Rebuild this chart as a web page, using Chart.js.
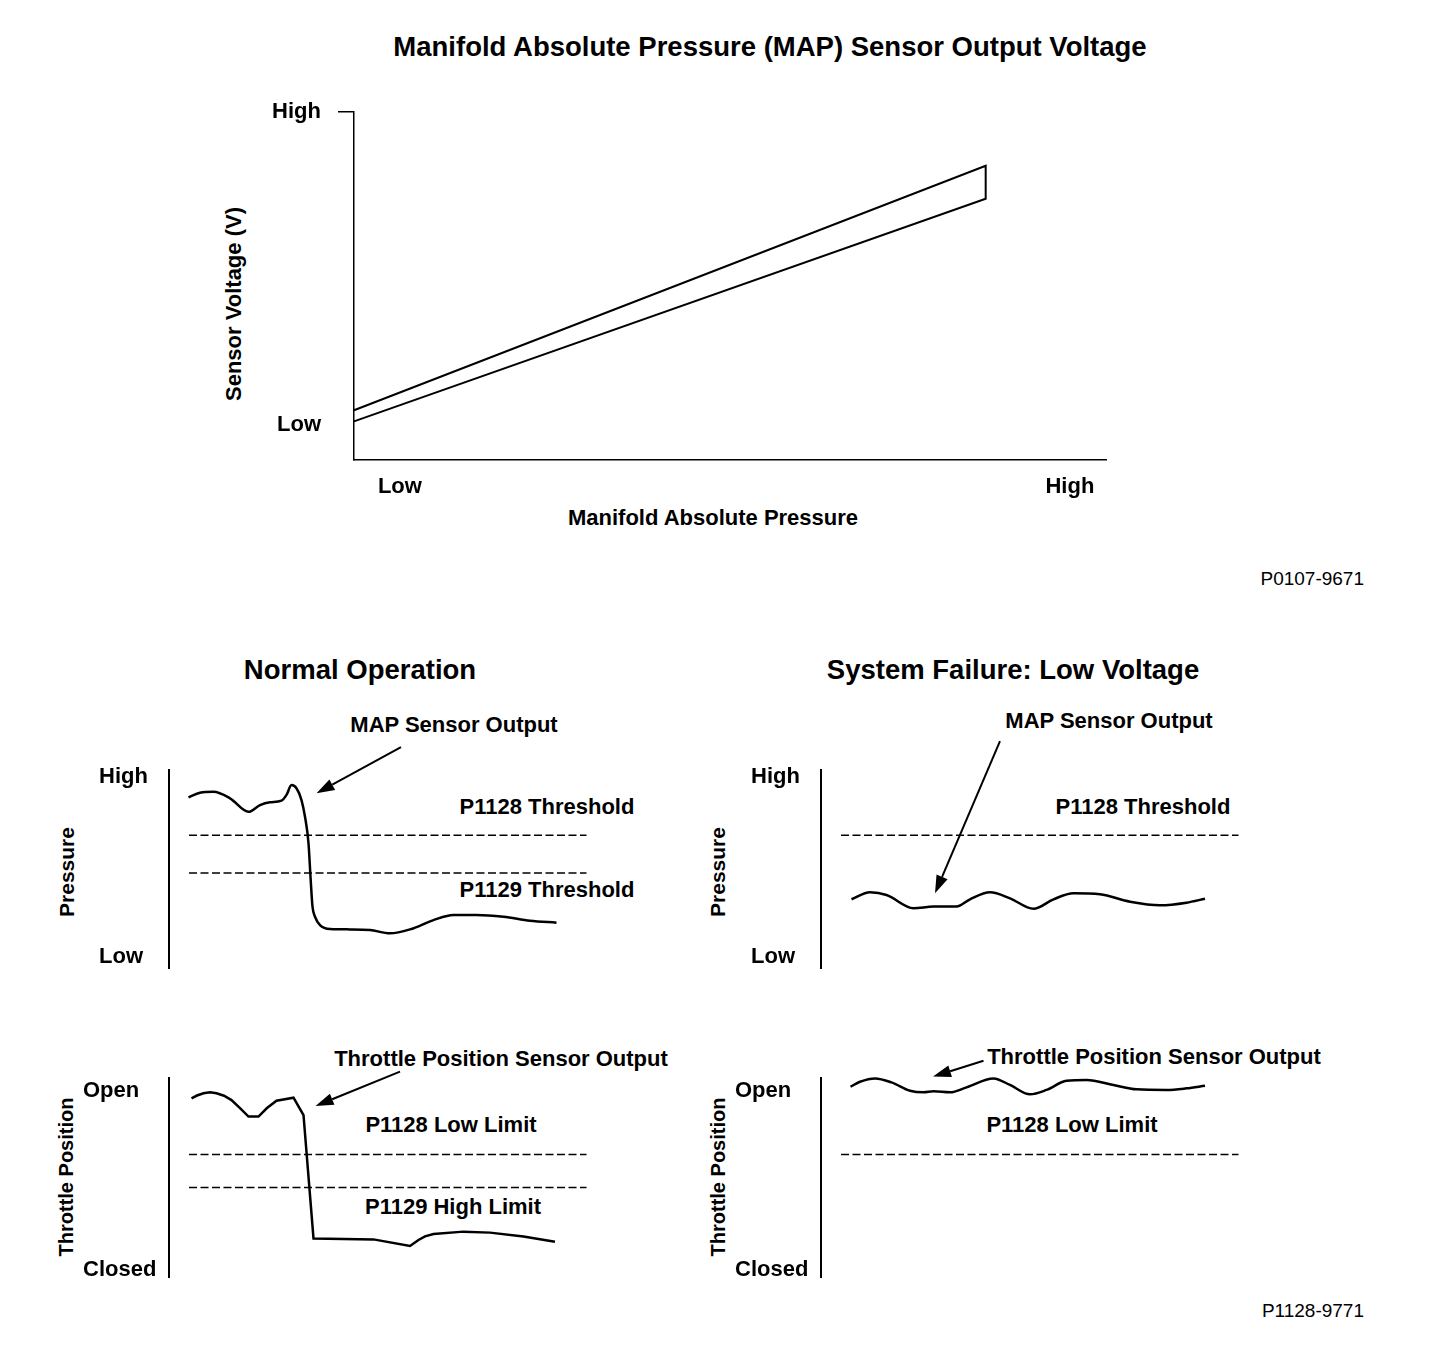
<!DOCTYPE html>
<html>
<head>
<meta charset="utf-8">
<title>MAP Sensor Output Voltage</title>
<script src="https://cdn.jsdelivr.net/npm/chart.js"></script>
<style>
    body { margin: 0; background: #fff; }
    #page { position: relative; width: 1440px; height: 1348px; overflow: hidden; font-family: 'Liberation Sans', Arial, sans-serif; font-weight: bold; color: #000; }
    .box { position: absolute; }
    .t { position: absolute; white-space: nowrap; line-height: 1; transform: translate(-50%, -50%); font-size: 22px; }
    .big { font-size: 27.5px; }
    .rot { transform: translate(-50%, -50%) rotate(-90deg); }
    .code { font-weight: normal; font-size: 19px; transform: translate(-100%, -50%); }
</style>
</head>
<body>
<div id="page">
    <div class="t big" style="left: 770px; top: 47px">Manifold Absolute Pressure (MAP) Sensor Output Voltage</div>
    <div class="t rot" style="left: 234px; top: 304px">Sensor Voltage (V)</div>
    <div class="t" style="left: 713px; top: 518px">Manifold Absolute Pressure</div>
    <div class="t code" style="left: 1364px; top: 578px">P0107-9671</div>

    <div class="t big" style="left: 360px; top: 670px">Normal Operation</div>
    <div class="t big" style="left: 1013px; top: 670px">System Failure: Low Voltage</div>

    <div class="t" style="left: 454px; top: 725px">MAP Sensor Output</div>
    <div class="t" style="left: 547px; top: 807px">P1128 Threshold</div>
    <div class="t" style="left: 547px; top: 890px">P1129 Threshold</div>
    <div class="t rot" style="left: 66px; top: 872px; font-size: 21px">Pressure</div>

    <div class="t" style="left: 1109px; top: 721px">MAP Sensor Output</div>
    <div class="t" style="left: 1143px; top: 807px">P1128 Threshold</div>
    <div class="t rot" style="left: 717px; top: 872px; font-size: 21px">Pressure</div>

    <div class="t" style="left: 501px; top: 1059px">Throttle Position Sensor Output</div>
    <div class="t" style="left: 451px; top: 1125px">P1128 Low Limit</div>
    <div class="t" style="left: 453px; top: 1207px">P1129 High Limit</div>
    <div class="t rot" style="left: 66px; top: 1177px; font-size: 20px">Throttle Position</div>

    <div class="t" style="left: 1154px; top: 1057px">Throttle Position Sensor Output</div>
    <div class="t" style="left: 1072px; top: 1125px">P1128 Low Limit</div>
    <div class="t rot" style="left: 718px; top: 1177px; font-size: 20px">Throttle Position</div>

    <div class="t code" style="left: 1364px; top: 1310px">P1128-9771</div>

    <div class="box" style="left: 200px; top: 82px; width: 940px; height: 428px"><canvas id="mapChart"></canvas></div>
    <div class="box" style="left: 40px; top: 740px; width: 640px; height: 250px"><canvas id="normalMap"></canvas></div>
    <div class="box" style="left: 692px; top: 740px; width: 640px; height: 250px"><canvas id="failMap"></canvas></div>
    <div class="box" style="left: 40px; top: 1050px; width: 640px; height: 250px"><canvas id="normalTps"></canvas></div>
    <div class="box" style="left: 692px; top: 1050px; width: 640px; height: 250px"><canvas id="failTps"></canvas></div>
</div>

<script>
    // top chart: sensor voltage band against manifold pressure
    const bandPressure = [0, 84, 84, 0];
    const bandVoltage = [11.1, 75.1, 84.6, 14.3];
    const voltageTicks = [10, 100];
    const voltageTickLabels = ['Low', 'High'];
    const pressureTicks = [6.1, 95.2];
    const pressureTickLabels = ['Low', 'High'];

    // bottom panels, x is time (0-100), y is level (0-100)
    const levelTicks = [5.6, 96.5];
    const levelTickLabels = ['Low', 'High'];
    const throttleTicks = [3.5, 93.5];
    const throttleTickLabels = ['Closed', 'Open'];

    const thresholdSpan = [4, 83.5];
    const p1128Threshold = 67;
    const p1129Threshold = 48;
    const p1128LowLimit = 61.5;
    const p1129HighLimit = 45;

    const normalMapTime = [3.9, 6.2, 8.9, 12.2, 15.9, 18.2, 20.2, 22.5, 23.5, 24.5, 25.5, 26.5, 27.2, 27.9, 28.3, 28.7, 29.2, 30.2, 32.2, 36.2, 40.2, 44.2, 48.2, 52.9, 56.9, 61.5, 66.9, 72.2, 77.5];
    const normalMapValue = [86.2, 88.5, 89.0, 85.7, 78.9, 82.3, 83.7, 84.5, 87.4, 92.4, 90.8, 84.8, 76.4, 63.0, 46.1, 31.0, 25.9, 21.7, 19.7, 19.5, 19.2, 17.5, 19.5, 24.2, 26.8, 26.8, 25.9, 23.9, 22.9];

    const normalTpsTime = [4.5, 5.6, 6.9, 8.2, 9.5, 11.0, 12.5, 14.2, 15.9, 17.9, 19.6, 21.5, 24.9, 26.9, 28.9, 40.9, 48.2, 49.9, 51.2, 52.9, 58.9, 64.2, 70.9, 77.2];
    const normalTpsValue = [89.8, 91.2, 92.3, 92.8, 92.3, 91.1, 88.9, 84.9, 80.6, 80.6, 84.9, 88.6, 90.1, 81.4, 19.4, 18.9, 15.6, 18.6, 20.4, 21.6, 22.8, 22.3, 20.3, 17.7];

    const failMapTime = [6.1, 9.8, 13.1, 18.5, 22.5, 27.1, 29.8, 33.8, 37.8, 42.5, 46.5, 50.5, 55.8, 61.8, 67.8, 73.1, 76.8];
    const failMapValue = [34.7, 38.2, 36.9, 30.2, 31.0, 31.0, 34.7, 38.2, 35.2, 29.9, 34.7, 37.7, 37.2, 33.5, 31.7, 33.0, 35.0];

    const failTpsTime = [5.9, 7.8, 10.8, 14.1, 17.8, 20.5, 22.5, 25.8, 29.1, 34.5, 37.8, 41.8, 45.1, 49.1, 53.1, 58.5, 63.1, 69.1, 73.1, 76.8];
    const failTpsValue = [95.6, 98.1, 99.8, 97.8, 93.6, 92.8, 93.3, 92.8, 95.3, 99.8, 96.5, 91.8, 94.0, 98.6, 99.0, 96.5, 94.3, 94.0, 94.8, 96.1];

    // callout arrows: [tail, tip] in data units
    const normalMapArrow = [[46.4, 111.6], [29.5, 88.2]];
    const failMapArrow = [[35.8, 114.6], [22.8, 37.7]];
    const normalTpsArrow = [[46.2, 103.2], [29.3, 85.9]];
    const failTpsArrow = [[32.5, 108.7], [22.4, 100.7]];

    const labelFont = { family: "'Liberation Sans', Arial, sans-serif", size: 22, weight: 'bold' };

    const arrowPlugin = {
        id: 'arrows',
        afterDatasetsDraw(chart, args, opts) {
            const { ctx, scales: { x, y } } = chart;
            (opts.list || []).forEach(a => {
                const x1 = x.getPixelForValue(a[0][0]), y1 = y.getPixelForValue(a[0][1]);
                const x2 = x.getPixelForValue(a[1][0]), y2 = y.getPixelForValue(a[1][1]);
                const ang = Math.atan2(y2 - y1, x2 - x1);
                const c = Math.cos(ang), s = Math.sin(ang);
                const head = 18, half = 6;
                const bx = x2 - head * c, by = y2 - head * s;
                ctx.save();
                ctx.strokeStyle = '#000';
                ctx.fillStyle = '#000';
                ctx.lineWidth = 2;
                ctx.beginPath();
                ctx.moveTo(x1, y1);
                ctx.lineTo(bx, by);
                ctx.stroke();
                ctx.beginPath();
                ctx.moveTo(x2, y2);
                ctx.lineTo(bx + half * s, by - half * c);
                ctx.lineTo(bx - half * s, by + half * c);
                ctx.closePath();
                ctx.fill();
                ctx.restore();
            });
        }
    };

    function points(xs, ys) {
        return xs.map((v, i) => ({ x: v, y: ys[i] }));
    }

    function dashed(value) {
        return {
            data: points(thresholdSpan, [value, value]),
            showLine: true,
            borderColor: '#000',
            borderWidth: 1.5,
            borderDash: [8, 3.5],
            pointRadius: 0,
            clip: false
        };
    }

    // top chart
    new Chart(document.getElementById('mapChart'), {
        type: 'scatter',
        data: {
            datasets: [{
                data: points(bandPressure, bandVoltage),
                showLine: true,
                borderColor: '#000',
                borderWidth: 2,
                pointRadius: 0,
                clip: false
            }]
        },
        options: {
            responsive: true,
            maintainAspectRatio: false,
            animation: false,
            layout: { padding: { top: 28, right: 34, left: 0, bottom: 0 } },
            plugins: { legend: { display: false }, tooltip: { enabled: false } },
            scales: {
                x: {
                    type: 'linear', min: 0, max: 100,
                    afterBuildTicks: s => { s.ticks = pressureTicks.map(v => ({ value: v })); },
                    afterFit: s => { s.height = 50; },
                    ticks: { callback: (v, i) => pressureTickLabels[i], color: '#000', font: labelFont, padding: 14, maxRotation: 0 },
                    grid: { display: false, drawTicks: false },
                    border: { display: true, color: '#000', width: 1.5 }
                },
                y: {
                    type: 'linear', min: 0, max: 100,
                    afterBuildTicks: s => { s.ticks = voltageTicks.map(v => ({ value: v })); },
                    afterFit: s => { s.width = 154; },
                    ticks: { callback: (v, i) => voltageTickLabels[i], color: '#000', font: labelFont, padding: 17 },
                    grid: {
                        drawOnChartArea: false, drawTicks: true, tickLength: 16, lineWidth: 1.5,
                        color: c => (c.tick && c.tick.value === 100 ? '#000' : 'rgba(0,0,0,0)')
                    },
                    border: { display: true, color: '#000', width: 1.5 }
                }
            }
        }
    });

    function panel(id, opts) {
        return new Chart(document.getElementById(id), {
            type: 'scatter',
            data: {
                datasets: [{
                    data: points(opts.time, opts.value),
                    showLine: true,
                    borderColor: '#000',
                    borderWidth: 2.5,
                    pointRadius: 0,
                    tension: opts.smooth ? 0.4 : 0,
                    cubicInterpolationMode: opts.smooth ? 'monotone' : 'default',
                    clip: false
                }].concat(opts.limits.map(dashed))
            },
            options: {
                responsive: true,
                maintainAspectRatio: false,
                animation: false,
                layout: { padding: opts.padding },
                plugins: { legend: { display: false }, tooltip: { enabled: false }, arrows: { list: [opts.arrow] } },
                scales: {
                    x: { type: 'linear', min: 0, max: 100, display: false },
                    y: {
                        type: 'linear', min: 0, max: 100,
                        afterBuildTicks: s => { s.ticks = opts.ticks.map(v => ({ value: v })); },
                        afterFit: s => { s.width = opts.axisWidth; },
                        ticks: { callback: (v, i) => opts.tickLabels[i], color: '#000', font: labelFont, crossAlign: 'far', padding: 0 },
                        grid: { display: false, drawTicks: false },
                        border: { display: true, color: '#000', width: 2 }
                    }
                }
            },
            plugins: [arrowPlugin]
        });
    }

    panel('normalMap', {
        time: normalMapTime, value: normalMapValue, smooth: true,
        limits: [p1128Threshold, p1129Threshold], arrow: normalMapArrow,
        ticks: levelTicks, tickLabels: levelTickLabels,
        padding: { left: 59, top: 30, right: 11, bottom: 22 }, axisWidth: 70
    });
    panel('failMap', {
        time: failMapTime, value: failMapValue, smooth: true,
        limits: [p1128Threshold], arrow: failMapArrow,
        ticks: levelTicks, tickLabels: levelTickLabels,
        padding: { left: 59, top: 30, right: 11, bottom: 22 }, axisWidth: 70
    });
    panel('normalTps', {
        time: normalTpsTime, value: normalTpsValue, smooth: false,
        limits: [p1128LowLimit, p1129HighLimit], arrow: normalTpsArrow,
        ticks: throttleTicks, tickLabels: throttleTickLabels,
        padding: { left: 43, top: 28, right: 11, bottom: 23 }, axisWidth: 86
    });
    panel('failTps', {
        time: failTpsTime, value: failTpsValue, smooth: true,
        limits: [p1128LowLimit], arrow: failTpsArrow,
        ticks: throttleTicks, tickLabels: throttleTickLabels,
        padding: { left: 43, top: 28, right: 11, bottom: 23 }, axisWidth: 86
    });
</script>
</body>
</html>
